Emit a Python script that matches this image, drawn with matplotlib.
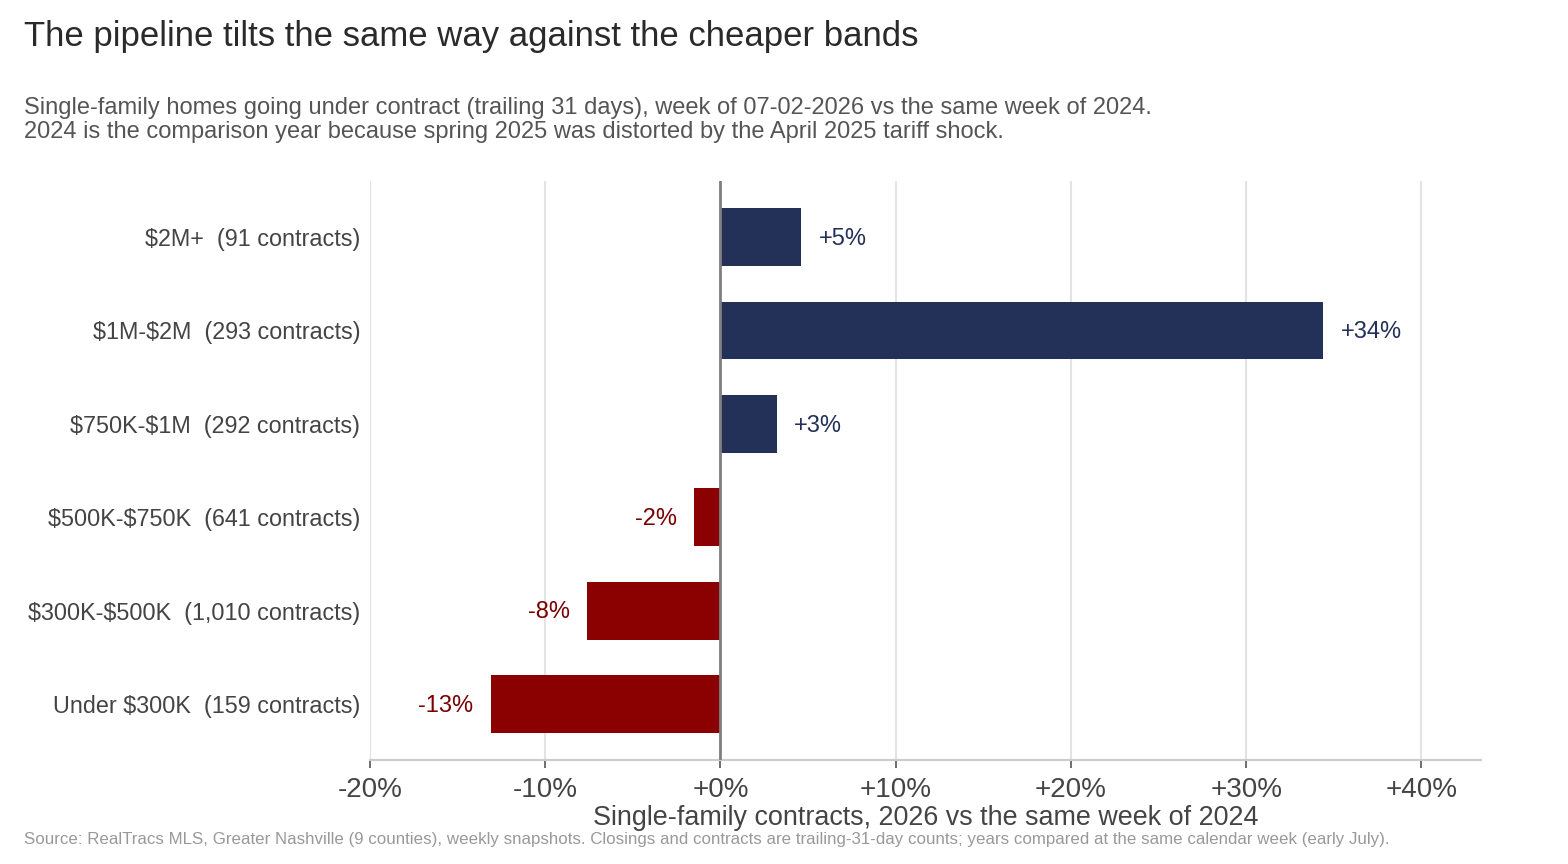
import matplotlib.pyplot as plt
from matplotlib.ticker import FuncFormatter

plt.rcParams['font.family'] = ['Liberation Sans', 'DejaVu Sans']
plt.rcParams['text.parse_math'] = False

# price bands, top to bottom
bands = ['$2M+', '$1M-$2M', '$750K-$1M', '$500K-$750K', '$300K-$500K', 'Under $300K']
contracts = ['91', '293', '292', '641', '1,010', '159']
pct_change = [4.6, 34.4, 3.2, -1.5, -7.6, -13.1]
value_labels = ['+5%', '+34%', '+3%', '-2%', '-8%', '-13%']

POS_COLOR = '#233159'
NEG_COLOR = '#8b0000'
POS_TEXT = '#233159'
NEG_TEXT = '#7a0000'

fig = plt.figure(figsize=(15.68, 8.64), dpi=100)
ax = fig.add_axes([0.236, 0.1204, 0.7085, 0.670])

ypos = list(range(len(bands)))[::-1]
colors = [POS_COLOR if v >= 0 else NEG_COLOR for v in pct_change]
ax.barh(ypos, pct_change, height=0.62, color=colors, zorder=3)

for y, v, lab in zip(ypos, pct_change, value_labels):
    if v >= 0:
        ax.text(v + 1.0, y - 0.02, lab, ha='left', va='center', fontsize=17,
                color=POS_TEXT, zorder=4)
    else:
        ax.text(v - 1.0, y - 0.02, lab, ha='right', va='center', fontsize=17,
                color=NEG_TEXT, zorder=4)

ax.axvline(0, color='#808080', linewidth=2, zorder=4)

ax.set_xlim(-20, 43.4)
ax.set_ylim(-0.6, 5.6)
ax.set_xticks([-20, -10, 0, 10, 20, 30, 40])
ax.xaxis.set_major_formatter(FuncFormatter(lambda x, p: f'{x:+.0f}%' if x != 0 else '+0%'))
ax.set_yticks(ypos)
ax.set_yticklabels([f'{b}  ({c} contracts)' for b, c in zip(bands, contracts)])

ax.grid(axis='x', color='#e3e3e3', linewidth=1.5, zorder=0)
ax.grid(axis='y', visible=False)
for s in ['top', 'right', 'left']:
    ax.spines[s].set_visible(False)
ax.spines['bottom'].set_color('#cccccc')
ax.spines['bottom'].set_linewidth(1.5)

ax.tick_params(axis='x', labelsize=20, colors='#444444', length=6, width=1.2, pad=6)
ax.tick_params(axis='x', color='#555555')
ax.tick_params(axis='y', labelsize=16.8, colors='#444444', length=0, pad=7)

ax.set_xlabel('Single-family contracts, 2026 vs the same week of 2024', fontsize=19.4,
              color='#444444', labelpad=2)

fig.text(0.0153, 0.958, 'The pipeline tilts the same way against the cheaper bands',
         fontsize=25, color='#2a2a2a', va='center', ha='left')
fig.text(0.0153, 0.861,
         'Single-family homes going under contract (trailing 31 days), week of 07-02-2026 vs the same week of 2024.\n'
         '2024 is the comparison year because spring 2025 was distorted by the April 2025 tariff shock.',
         fontsize=17, color='#555555', va='center', ha='left', linespacing=1.08)
fig.text(0.0153, 0.028,
         'Source: RealTracs MLS, Greater Nashville (9 counties), weekly snapshots. Closings and contracts are trailing-31-day counts; years compared at the same calendar week (early July).',
         fontsize=12.2, color='#999999', va='center', ha='left')

fig.savefig('out.png', dpi=100)
